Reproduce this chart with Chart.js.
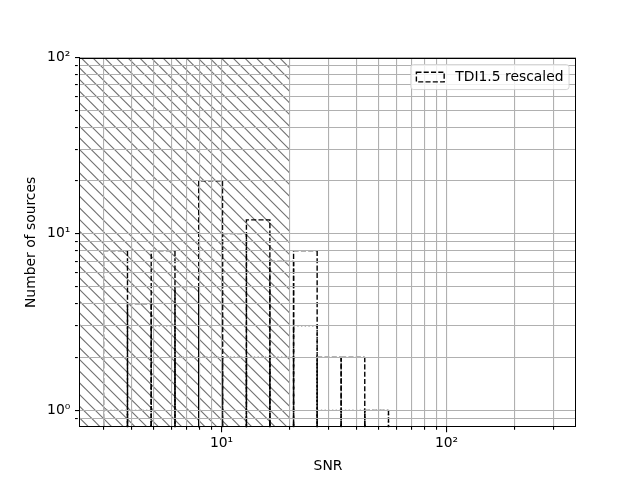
<!DOCTYPE html>
<html>
<head>
<meta charset="utf-8">
<script src="https://cdn.jsdelivr.net/npm/chart.js@4.4.1/dist/chart.umd.min.js"></script>
<style>
  html, body { margin: 0; padding: 0; background: #fff; }
  #wrap { width: 640px; height: 480px; }
</style>
</head>
<body>
<div id="wrap"><canvas id="chartSNR" width="640" height="480"></canvas></div>
<script>
//* DATA
const binEdges = [3.0, 3.82, 4.87, 6.21, 7.92, 10.1, 12.9, 16.4, 20.9, 26.6, 34.0, 43.3, 55.2];
const countsRescaled = [8, 4, 8, 5, 20, 10, 12, 7, 8, 2, 2, 1];
const countsDotted = [1, 1, 3, 2, 2, 2, 2, 2, 3, 1, 1, 1];
const snrCut = 20;
const xTicks = [3, 4, 5, 6, 7, 8, 9, 10, 20, 30, 40, 50, 60, 70, 80, 90, 100, 200, 300];
const yTicks = [0.9, 1, 2, 3, 4, 5, 6, 7, 8, 9, 10, 20, 30, 40, 50, 60, 70, 80, 90, 100];
const majorLabels = { 1: '10⁰', 10: '10¹', 100: '10²' };
const legendLabel = 'TDI1.5 rescaled';

const FONT = { family: 'DejaVu Sans', size: 13.89 };
const FLOOR = 0.01; // below the axis, bars start off-screen like matplotlib's log clip

// each bar is an open rectangle: up the left edge, across, down the right edge
function barPath(counts) {
    const pts = [];
    counts.forEach((c, i) => {
        if (c <= 0) return;
        pts.push({ x: binEdges[i], y: FLOOR });
        pts.push({ x: binEdges[i], y: c });
        pts.push({ x: binEdges[i + 1], y: c });
        pts.push({ x: binEdges[i + 1], y: FLOOR });
        pts.push({ x: binEdges[i + 1], y: null });
    });
    return pts;
}

// edges sitting on a grid line end up under it in the original (all but the 20 top)
const onGrid = ctx => {
    const a = ctx.p0.parsed, b = ctx.p1.parsed;
    if (a.y === b.y && a.x !== b.x) return yTicks.includes(a.y) && a.y !== 20;
    if (a.x === b.x) return xTicks.includes(a.x);
    return false;
};

function makeHatch() {
    const size = 35, n = 3;
    const c = document.createElement('canvas');
    c.width = size; c.height = size;
    const g = c.getContext('2d');
    g.strokeStyle = '#6e6e6e';
    g.lineWidth = 1.1;
    for (let k = -n; k <= n; k++) {
        const off = k * size / n;
        g.beginPath();
        g.moveTo(-2, off - 2);
        g.lineTo(size + 2, off + size + 2);
        g.stroke();
    }
    return g.createPattern(c, 'repeat');
}

const isMajor = v => v === 1 || v === 10 || v === 100;

const frame = {
    id: 'frame',
    afterDraw(chart) {
        const { ctx, chartArea: a } = chart;
        ctx.save();
        ctx.strokeStyle = '#000';
        ctx.lineWidth = 1;
        const l = Math.round(a.left) - 0.5, r = Math.round(a.right) - 0.5;
        const t = Math.round(a.top) + 0.5, b = Math.round(a.bottom) - 0.5;
        ctx.strokeRect(l, t, r - l, b - t);
        ctx.restore();
    }
};

const legendBox = {
    id: 'legendBox',
    afterDraw(chart) {
        const { ctx, chartArea: a } = chart;
        const fs = FONT.size, pad = 0.4 * fs, hl = 2 * fs, hp = 0.8 * fs;
        ctx.save();
        ctx.font = fs + 'px "DejaVu Sans"';
        const tw = ctx.measureText(legendLabel).width;
        const w = pad * 2 + hl + hp + tw, h = 25;
        const x1 = a.right - 0.5 * fs, y0 = a.top + 0.5 * fs, x0 = x1 - w;
        ctx.beginPath();
        ctx.roundRect(x0, y0, w, h, 2.8);
        ctx.fillStyle = 'rgba(255,255,255,0.8)';
        ctx.fill();
        ctx.strokeStyle = 'rgba(204,204,204,0.8)';
        ctx.lineWidth = 1;
        ctx.stroke();
        const mid = y0 + h / 2;
        ctx.setLineDash([5.1, 2.2]);
        ctx.strokeStyle = '#000';
        ctx.lineWidth = 1.4;
        ctx.strokeRect(x0 + pad, mid - 0.35 * fs, hl, 0.7 * fs);
        ctx.setLineDash([]);
        ctx.fillStyle = '#000';
        ctx.textBaseline = 'middle';
        ctx.fillText(legendLabel, x0 + pad + hl + hp, mid);
        ctx.restore();
    }
};

const tickDash = c => (c.tick && isMajor(c.tick.value)) ? [] : [2.8, 30];

const gridOpts = {
    z: 1, color: '#b0b0b0', lineWidth: 1.1, tickLength: 5,
    tickColor: '#000', tickWidth: 1.1, tickBorderDash: tickDash
};

new Chart(document.getElementById('chartSNR'), {
    type: 'line',
    data: {
        datasets: [{
            label: legendLabel,
            data: barPath(countsRescaled),
            borderColor: '#000',
            borderWidth: 1.4,
            borderDash: [5.1, 2.2],
            pointRadius: 0,
            spanGaps: false,
            segment: { borderColor: c => onGrid(c) ? '#9a9a9a' : undefined },
            order: 0
        }, {
            label: 'dotted',
            data: barPath(countsDotted),
            borderColor: '#000',
            borderWidth: 1.4,
            borderDash: [1.4, 2.3],
            pointRadius: 0,
            spanGaps: false,
            segment: { borderColor: c => onGrid(c) ? '#a8a8a8' : undefined },
            order: 1
        }, {
            label: 'cut',
            data: [{ x: 1, y: 1000 }, { x: snrCut, y: 1000 }],
            borderWidth: 0,
            pointRadius: 0,
            fill: 'start',
            backgroundColor: makeHatch(),
            order: 2
        }]
    },
    options: {
        responsive: false,
        animation: false,
        layout: { padding: { top: 57.6, right: 64, left: 0, bottom: 0 } },
        plugins: { legend: { display: false }, tooltip: { enabled: false } },
        scales: {
            x: {
                type: 'logarithmic',
                min: 2.35, max: 376,
                afterBuildTicks: s => { s.ticks = xTicks.map(v => ({ value: v })); },
                afterFit: s => { s.height = 52.8; },
                ticks: {
                    autoSkip: false, maxRotation: 0, padding: 3, color: '#000', font: FONT,
                    callback: v => majorLabels[v] || ''
                },
                grid: gridOpts,
                border: { display: false },
                title: { display: true, text: 'SNR', color: '#000', font: FONT, padding: { top: 0, bottom: 4.9 } }
            },
            y: {
                type: 'logarithmic',
                min: 0.8, max: 100,
                afterBuildTicks: s => { s.ticks = yTicks.map(v => ({ value: v })); },
                afterFit: s => { s.width = 80; },
                ticks: {
                    autoSkip: false, padding: 4.7, color: '#000', font: FONT,
                    callback: v => majorLabels[v] || ''
                },
                grid: gridOpts,
                border: { display: false },
                title: { display: true, text: 'Number of sources', color: '#000', font: FONT, padding: { top: 22.7, bottom: 0 } }
            }
        }
    },
    plugins: [frame, legendBox]
});
</script>
</body>
</html>
